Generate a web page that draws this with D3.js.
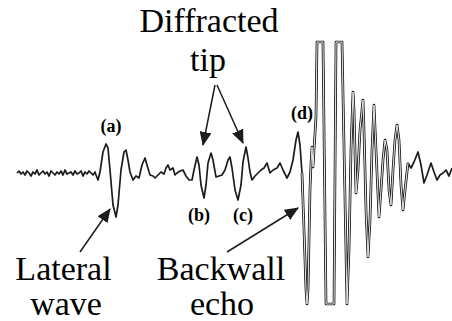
<!DOCTYPE html>
<html>
<head>
<meta charset="utf-8">
<script src="https://cdn.jsdelivr.net/npm/d3@7"></script>
<style>
  html, body { margin: 0; padding: 0; background: #fff; overflow: hidden; }
</style>
</head>
<body>
<div id="chart"></div>
<script>
// A-scan trace (sample index vs amplitude, clipped at +/-131)
const noiseIndex = [0, 2, 4, 6, 8, 10, 12, 14, 16, 18, 20, 22, 24, 26, 28, 30, 32, 34, 36, 38,
  40, 42, 44, 46, 48, 50, 52, 54, 56, 58, 60, 62, 64, 66, 68, 70, 72, 74, 76, 78];
const noiseAmplitude = [0, 2, -1, 1, -2, 2, 0, -3, 1, -1, 3, -2, 0, 2, -1, 1, -3, 2, 0, -2,
  1, -1, 2, -2, 3, -1, 0, 1, -2, 2, -1, 0, 2, -3, 1, -1, 2, 0, -2, 1];
const signalIndex = [79, 81, 83, 86, 89, 91, 93, 96, 99, 101,
  104, 107, 109, 111, 113, 116, 119, 122, 125, 128,
  130, 133, 136, 138, 141, 144, 147, 149, 151, 153,
  156, 158, 160, 163, 166, 169, 172, 175, 177, 180,
  182, 184, 187, 189, 191, 194, 196, 199, 202, 205,
  208, 211, 213, 215, 218, 221, 224, 226, 229, 231,
  233, 235, 238, 241, 244, 247, 250, 253, 256, 260,
  263, 266, 270, 273, 276, 279, 281, 283, 285, 287,
  289, 290, 291, 293, 294, 295, 296, 297, 299, 300,
  306, 309, 317, 319, 325, 330, 332, 334, 335, 336,
  337, 339, 341, 343, 346, 347, 349, 351, 353, 355,
  357, 359, 362, 364, 366, 368, 370, 372, 374, 376,
  378, 380, 382, 384, 386, 388, 391, 394, 397, 401,
  404, 407, 410, 414, 417, 420, 423, 426, 429, 432,
  435];
const signalAmplitude = [-2, -7, 1, 21, 29, 25, 3, -32, -44, -32,
  3, 21, 23, 13, 1, -7, -3, -5, 8, 15,
  8, -2, -3, -5, -2, 1, -1, 5, 8, 3,
  5, -2, 0, 2, 3, -3, -7, -7, 3, 16,
  8, -12, -25, -12, 10, 20, 13, -4, -3, -2,
  3, 13, 16, 5, -17, -27, -12, 11, 26, 15,
  1, -7, -3, 0, 3, 5, 10, 0, 3, 5,
  10, 3, -5, 1, 13, 33, 41, 28, 0, -57,
  -117, -131, -117, -17, 10, 26, 6, 23, 56, 131,
  131, -131, -131, 131, 131, -131, -77, 23, 53, 81,
  63, -20, 3, 43, 73, 43, -37, -84, -47, 23,
  68, 23, -44, -17, 13, 33, 23, -17, -32, 3,
  33, 48, 33, -12, -37, -17, 10, 5, 11, 21,
  8, -10, -2, 10, 1, -7, -2, 0, 3, -3,
  5];

// annotations, anchored in data units
const captionText = ['Diffracted', 'tip', 'Lateral', 'wave', 'Backwall', 'echo'];
const captionIndex = [192, 191, 46.5, 49, 204, 205];
const captionAmplitude = [141, 102, -107, -142, -107, -142];
const tagText = ['(a)', '(b)', '(c)', '(d)'];
const tagIndex = [94, 182, 226, 285];
const tagAmplitude = [41, -48, -48, 54];
const arrowFrom = [[63, -79], [210, -79], [198, 88], [200, 88]];
const arrowTo = [[93, -36], [281, -35], [186, 28], [226, 30]];

const WIDTH = 452;
const HEIGHT = 321;
const INK = '#1c1c1c';
const SERIF = "'Liberation Serif', 'Times New Roman'";
// between these samples the big swings print as an outlined stroke
const ECHO_FROM = 285;
const ECHO_TO = 391;

const trace = noiseIndex.map((t, i) => ({ t, a: noiseAmplitude[i] }))
  .concat(signalIndex.map((t, i) => ({ t, a: signalAmplitude[i] })));

const svg = d3.select('#chart')
  .append('svg')
  .attr('width', WIDTH)
  .attr('height', HEIGHT);

const xScale = d3.scaleLinear().domain([0, 435]).range([17, 452]);
const yScale = d3.scaleLinear().domain([-131, 131]).range([304, 42]);

svg.append('defs')
  .append('marker')
  .attr('id', 'head')
  .attr('markerUnits', 'userSpaceOnUse')
  .attr('viewBox', '0 0 14 12')
  .attr('refX', 13)
  .attr('refY', 6)
  .attr('markerWidth', 14)
  .attr('markerHeight', 12)
  .attr('orient', 'auto')
  .append('path')
  .attr('d', 'M0,0 L14,6 L0,12 Z')
  .attr('fill', INK);

const line = d3.line()
  .x((d) => xScale(d.t))
  .y((d) => yScale(d.a));

const echo = trace.filter((d) => d.t >= ECHO_FROM && d.t <= ECHO_TO);

svg.append('path')
  .datum(trace)
  .attr('d', line)
  .attr('fill', 'none')
  .attr('stroke', INK)
  .attr('stroke-width', 1.7)
  .attr('stroke-linejoin', 'round');

svg.append('path')
  .datum(echo)
  .attr('d', line)
  .attr('fill', 'none')
  .attr('stroke', INK)
  .attr('stroke-width', 2.7)
  .attr('stroke-linejoin', 'round');

svg.append('path')
  .datum(echo)
  .attr('d', line)
  .attr('fill', 'none')
  .attr('stroke', '#fff')
  .attr('stroke-width', 0.9)
  .attr('stroke-linejoin', 'round');

svg.selectAll('line')
  .data(arrowFrom)
  .join('line')
  .attr('x1', (d) => xScale(d[0]))
  .attr('y1', (d) => yScale(d[1]))
  .attr('x2', (d, i) => xScale(arrowTo[i][0]))
  .attr('y2', (d, i) => yScale(arrowTo[i][1]))
  .attr('stroke', INK)
  .attr('stroke-width', 1.5)
  .attr('marker-end', 'url(#head)');

svg.append('g')
  .selectAll('text')
  .data(captionText)
  .join('text')
  .attr('x', (d, i) => xScale(captionIndex[i]))
  .attr('y', (d, i) => yScale(captionAmplitude[i]))
  .attr('text-anchor', 'middle')
  .attr('font-family', SERIF)
  .attr('font-size', '34px')
  .style('font-family', SERIF)
  .style('font-size', '34px')
  .text((d) => d);

svg.append('g')
  .selectAll('text')
  .data(tagText)
  .join('text')
  .attr('x', (d, i) => xScale(tagIndex[i]))
  .attr('y', (d, i) => yScale(tagAmplitude[i]))
  .attr('text-anchor', 'middle')
  .attr('font-family', SERIF)
  .attr('font-size', '18px')
  .attr('font-weight', 'bold')
  .style('font-family', SERIF)
  .style('font-size', '18px')
  .text((d) => d);
</script>
</body>
</html>
